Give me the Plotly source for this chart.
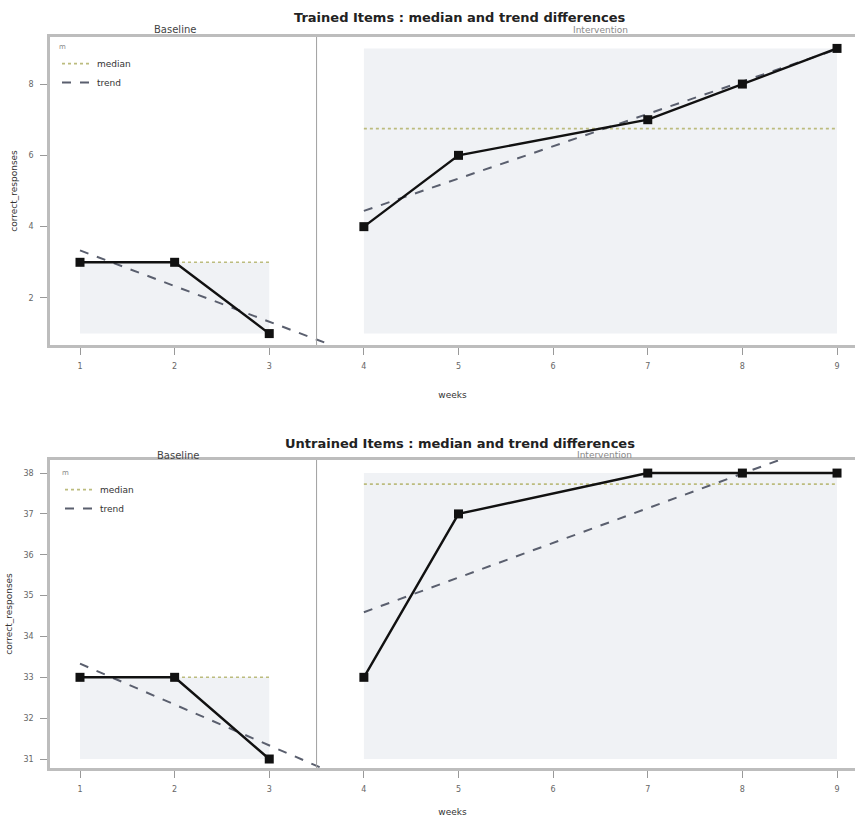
import numpy as np
import plotly.graph_objects as go

# ---------------- data ----------------
weeks_baseline = [1, 2, 3]
weeks_intervention = [4, 5, 7, 8, 9]

trained_baseline = [3, 3, 1]
trained_intervention = [4, 6, 7, 8, 9]
trained_median_baseline = 3
trained_median_intervention = 6.75

untrained_baseline = [33, 33, 31]
untrained_intervention = [33, 37, 38, 38, 38]
untrained_median_baseline = 33
untrained_median_intervention = 37.73

x_ticks = [1, 2, 3, 4, 5, 6, 7, 8, 9]
trained_yticks = [2, 4, 6, 8]
untrained_yticks = [31, 32, 33, 34, 35, 36, 37, 38]

titles = ["Trained Items : median and trend differences",
          "Untrained Items : median and trend differences"]
phase_labels = ["Baseline", "Intervention"]

# ---------------- layout geometry ----------------
W, H = 862, 817
ML, MR, MT, MB = 50, 7, 37, 49
PW = W - ML - MR
PH = H - MT - MB


def px(xp):
    return (xp - ML) / PW


def py(yp):
    return (H - MB - yp) / PH


top_dom = [py(345), 1.0]
bot_dom = [0.0, py(460)]

BLACK = "#111111"
MEDIAN_C = "#bcbc7e"
TREND_C = "#5a5f6e"
SHADE_C = "#f0f2f5"
AXIS_C = "#bdbdbd"
TXT_C = "#333333"

fig = go.Figure()

panels = [
    dict(xa="x", ya="y", yb=trained_baseline, yi=trained_intervention,
         mb=trained_median_baseline, mi=trained_median_intervention, legend="legend"),
    dict(xa="x2", ya="y2", yb=untrained_baseline, yi=untrained_intervention,
         mb=untrained_median_baseline, mi=untrained_median_intervention, legend="legend2"),
]

for p in panels:
    allv = p["yb"] + p["yi"]
    vmin = min(allv)
    # shaded rectangles (phase range x [first,last], y [overall min, phase max])
    for wk, vals in [(weeks_baseline, p["yb"]), (weeks_intervention, p["yi"])]:
        x0, x1 = min(wk), max(wk)
        y1 = max(vals)
        fig.add_trace(go.Scatter(
            x=[x0, x1, x1, x0, x0], y=[vmin, vmin, y1, y1, vmin],
            fill="toself", fillcolor=SHADE_C, mode="lines",
            line=dict(width=0), hoverinfo="skip", showlegend=False,
            xaxis=p["xa"], yaxis=p["ya"]))
    # median lines
    for i, (wk, m) in enumerate([(weeks_baseline, p["mb"]), (weeks_intervention, p["mi"])]):
        fig.add_trace(go.Scatter(
            x=[min(wk), max(wk)], y=[m, m], mode="lines",
            line=dict(color=MEDIAN_C, width=1.6, dash="dot"),
            name="median", showlegend=(i == 0), legend=p["legend"],
            xaxis=p["xa"], yaxis=p["ya"]))
    # trend lines (least squares)
    for i, (wk, vals, xe) in enumerate([(weeks_baseline, p["yb"], (1, 3.62)),
                                         (weeks_intervention, p["yi"], (4, 9))]):
        k, b = np.polyfit(wk, vals, 1)
        xs = np.array(xe)
        fig.add_trace(go.Scatter(
            x=xs, y=k * xs + b, mode="lines",
            line=dict(color=TREND_C, width=2, dash="dash"),
            name="trend", showlegend=(i == 0), legend=p["legend"],
            xaxis=p["xa"], yaxis=p["ya"]))
    # data
    for wk, vals in [(weeks_baseline, p["yb"]), (weeks_intervention, p["yi"])]:
        fig.add_trace(go.Scatter(
            x=wk, y=vals, mode="lines+markers",
            line=dict(color=BLACK, width=2.4),
            marker=dict(symbol="square", size=9, color=BLACK),
            showlegend=False, xaxis=p["xa"], yaxis=p["ya"]))

xr = [0.683, 9.19]
axis_common = dict(showgrid=False, zeroline=False, showline=True, linecolor=AXIS_C,
                   linewidth=2.5, ticks="outside", ticklen=7, tickcolor="#999",
                   ticklabelstandoff=5, automargin=False,
                   tickfont=dict(size=8, color="#666", family="DejaVu Sans"))

fig.update_layout(
    width=W, height=H, margin=dict(l=ML, r=MR, t=MT, b=MB),
    paper_bgcolor="white", plot_bgcolor="white",
    xaxis=dict(domain=[0, 1], range=xr, anchor="y", tickvals=x_ticks, mirror=True,
               title=dict(text="weeks", font=dict(size=9, color=TXT_C), standoff=22),
               **axis_common),
    yaxis=dict(domain=top_dom, range=[0.68, 9.32], anchor="x", tickvals=trained_yticks,
               title=dict(text="correct_responses", font=dict(size=9, color=TXT_C), standoff=10),
               **axis_common),
    xaxis2=dict(domain=[0, 1], range=xr, anchor="y2", tickvals=x_ticks, mirror=True,
                title=dict(text="weeks", font=dict(size=9, color=TXT_C), standoff=22),
                **axis_common),
    yaxis2=dict(domain=bot_dom, range=[30.78, 38.32], anchor="x2", tickvals=untrained_yticks,
                title=dict(text="correct_responses", font=dict(size=9, color=TXT_C), standoff=10),
                **axis_common),
    legend=dict(x=px(57), y=py(40), xanchor="left", yanchor="top", bgcolor="rgba(0,0,0,0)",
                font=dict(size=9, color=TXT_C), tracegroupgap=0, itemwidth=30,
                title=dict(text="m", font=dict(size=7, color="#888"))),
    legend2=dict(x=px(60), y=py(466), xanchor="left", yanchor="top", bgcolor="rgba(0,0,0,0)",
                 font=dict(size=9, color=TXT_C), tracegroupgap=0, itemwidth=30,
                 title=dict(text="m", font=dict(size=7, color="#888"))),
    font=dict(family="DejaVu Sans"),
)

# phase divider lines
for xa, ya in [("x", "y domain"), ("x2", "y2 domain")]:
    fig.add_shape(type="line", xref=xa, yref=ya, x0=3.5, x1=3.5, y0=0, y1=1,
                  line=dict(color="#a0a0a0", width=1))

# titles and phase labels
ann = []
for t, ty, ly, bx, ix in [(titles[0], 17, 30, 175, 600), (titles[1], 443, 455, 178, 604)]:
    ann.append(dict(text="<b>" + t + "</b>", x=px(460), y=py(ty), xref="paper", yref="paper",
                    showarrow=False, font=dict(size=13, color="#222"), xanchor="center", yanchor="middle"))
    ann.append(dict(text=phase_labels[0], x=px(bx), y=py(ly), xref="paper", yref="paper",
                    showarrow=False, font=dict(size=10, color="#444"), xanchor="center", yanchor="middle"))
    ann.append(dict(text=phase_labels[1], x=px(ix), y=py(ly), xref="paper", yref="paper",
                    showarrow=False, font=dict(size=9, color="#888"), xanchor="center", yanchor="middle"))
fig.update_layout(annotations=ann)

fig.write_html("out.html", config={"displayModeBar": False},
               post_script="document.body.style.margin='0px';document.body.style.overflow='hidden';")
